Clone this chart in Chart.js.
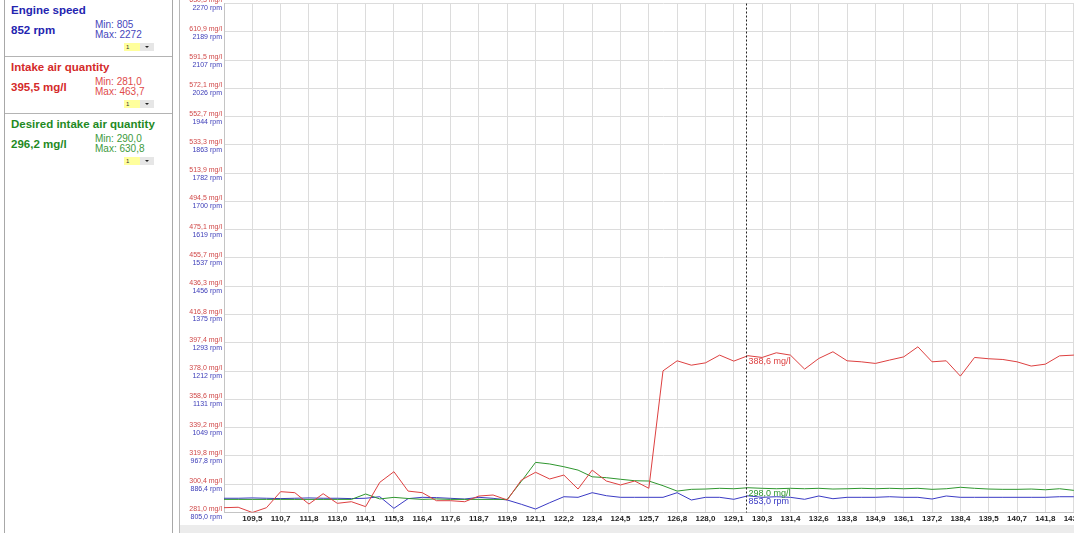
<!DOCTYPE html>
<html>
<head>
<meta charset="utf-8">
<script src="https://cdn.jsdelivr.net/npm/chart.js@4.4.1/dist/chart.umd.min.js"></script>
<style>
  html, body { margin: 0; padding: 0; width: 1074px; height: 533px; overflow: hidden; background: #fff; font-family: "Liberation Sans", Arial, sans-serif; }
  #panel { position: absolute; left: 4px; top: -1px; width: 167px; height: 540px; border: 1px solid #a8a8a8; }
  .sig { position: relative; height: 56px; border-bottom: 1px solid #b4b4b4; }
  .sig.last { border-bottom: none; }
  .name { position: absolute; left: 6px; top: 4px; font-weight: bold; font-size: 11.5px; white-space: nowrap; }
  .val { position: absolute; left: 6px; top: 24px; font-weight: bold; font-size: 11.5px; }
  .mm { position: absolute; left: 90px; top: 20px; font-size: 10px; line-height: 10px; }
  .dd { position: absolute; left: 119px; top: 43px; width: 30px; height: 8px; }
  .dd .y { position: absolute; left: 0; top: 0; width: 16px; height: 8px; background: #ffff9c; font-size: 6px; line-height: 8px; color: #333; text-indent: 2px; }
  .dd .g { position: absolute; left: 16px; top: 0; width: 14px; height: 8px; background: #e6e6e6; }
  .dd .g:after { content: ""; position: absolute; left: 5px; top: 3px; border-left: 2px solid transparent; border-right: 2px solid transparent; border-top: 2px solid #222; }
  .blue { color: #2424b0; } .blue .mm { color: #4646bc; }
  .red { color: #d42a2a; } .red .mm { color: #e04a4a; }
  .green { color: #1f8a1f; } .green .mm { color: #3c9a3c; }
  #frame { position: absolute; left: 179px; top: 0; width: 1px; height: 533px; background: #b8b8b8; }
  #wrap { position: absolute; left: 180px; top: 0; width: 922px; height: 526px; }
  #scroll { position: absolute; left: 180px; top: 525px; width: 894px; height: 8px; background: #ececec; }
</style>
</head>
<body>
<div id="panel">
  <div class="sig blue">
    <div class="name">Engine speed</div>
    <div class="val">852 rpm</div>
    <div class="mm">Min: 805<br>Max: 2272</div>
    <div class="dd"><div class="y">1</div><div class="g"></div></div>
  </div>
  <div class="sig red">
    <div class="name">Intake air quantity</div>
    <div class="val">395,5 mg/l</div>
    <div class="mm">Min: 281,0<br>Max: 463,7</div>
    <div class="dd"><div class="y">1</div><div class="g"></div></div>
  </div>
  <div class="sig green last">
    <div class="name">Desired intake air quantity</div>
    <div class="val">296,2 mg/l</div>
    <div class="mm">Min: 290,0<br>Max: 630,8</div>
    <div class="dd"><div class="y">1</div><div class="g"></div></div>
  </div>
</div>
<div id="frame"></div>
<div id="wrap"><canvas id="chart"></canvas></div>
<div id="scroll"></div>

<script>
const FONT = '"Liberation Sans", Arial, sans-serif';

// time labels shown under every second sample (s)
const timeTicks = ["109,5", "110,7", "111,8", "113,0", "114,1", "115,3", "116,4", "117,6", "118,7", "119,9",
  "121,1", "122,2", "123,4", "124,5", "125,7", "126,8", "128,0", "129,1", "130,3", "131,4",
  "132,6", "133,8", "134,9", "136,1", "137,2", "138,4", "139,5", "140,7", "141,8", "143,0"];

const mgTicks = [281.0, 300.4, 319.8, 339.2, 358.6, 378.0, 397.4, 416.8, 436.3, 455.7,
  475.1, 494.5, 513.9, 533.3, 552.7, 572.1, 591.5, 610.9, 630.3];
const rpmTicks = [805.0, 886.4, 967.8, 1049, 1131, 1212, 1293, 1375, 1456, 1537,
  1619, 1700, 1782, 1863, 1944, 2026, 2107, 2189, 2270];

// intake air quantity, mg/l
const intakeAir = [284.3, 284.6, 281.0, 284.3, 295.3, 294.6, 286.8, 293.9, 287.3, 288.4,
  285.0, 301.7, 309.0, 295.7, 294.6, 289.1, 289.1, 288.4, 292.3, 293.0,
  289.6, 303.3, 308.6, 304.0, 306.7, 297.1, 310.1, 302.6, 299.9, 302.6,
  297.6, 378.2, 385.1, 382.1, 383.7, 389.0, 384.9, 388.6, 387.4, 390.6,
  389.0, 379.4, 386.7, 391.3, 385.1, 384.4, 383.3, 385.6, 387.8, 394.7,
  384.4, 385.1, 374.6, 387.4, 386.5, 386.0, 384.4, 381.5, 382.8, 388.5,
  389.0, 388.0, 386.0];

// desired intake air quantity, mg/l
const desiredAir = [290.0, 290.0, 290.0, 290.0, 290.0, 290.0, 290.0, 290.0, 290.0, 290.0,
  293.7, 290.3, 291.4, 290.6, 290.0, 290.3, 290.0, 290.0, 290.0, 290.0,
  290.0, 302.4, 315.4, 314.3, 312.4, 310.1, 305.5, 304.9, 303.8, 302.8,
  302.6, 299.4, 295.7, 296.9, 297.1, 297.6, 297.3, 298.0, 297.6, 297.3,
  297.6, 297.3, 297.6, 297.1, 297.3, 297.6, 297.3, 297.6, 297.3, 297.6,
  296.9, 297.3, 298.3, 297.6, 297.1, 296.9, 296.9, 297.1, 296.6, 297.3,
  296.2, 296.2, 296.2];

// engine speed, rpm
const engineSpeed = [846, 846, 847, 846, 845, 846, 847, 846, 846, 845,
  846, 850.4, 817, 844.9, 848.7, 847.8, 845.8, 843.8, 848.7, 845.8,
  841, 828.6, 815, 833.2, 850.4, 848.7, 862, 853.3, 848.7, 848.7,
  848.7, 848.7, 862, 841, 848.7, 848.7, 843, 853.0, 848.7, 850.4,
  848.7, 843, 852.5, 844.7, 848.7, 848.7, 848.7, 850.4, 848.7, 848.7,
  843.8, 852.5, 848.7, 848.7, 848.7, 848.7, 848.7, 848.7, 848.7, 850.4,
  850.4, 852, 852];

const sampleIdx = intakeAir.map((_, i) => i);
const cursorIndex = 37;

function comma(v, d) {
  return v.toFixed(d).replace(".", ",");
}

// rpm axis shares the same strip as the mg/l axis, labels sit just below
const stackAxes = {
  id: "stackAxes",
  afterLayout(chart) {
    const a = chart.scales.y;
    const b = chart.scales.y1;
    b.left = a.left;
    b.right = a.right;
    b.width = a.width;
  },
};

const cursorPlugin = {
  id: "cursor",
  afterDatasetsDraw(chart) {
    const { ctx, chartArea, scales } = chart;
    const x = Math.round(scales.x.getPixelForValue(cursorIndex)) - 1.5;
    ctx.save();
    ctx.strokeStyle = "#222";
    ctx.lineWidth = 1;
    ctx.setLineDash([2, 2]);
    ctx.beginPath();
    ctx.moveTo(x, chartArea.top);
    ctx.lineTo(x, chartArea.bottom);
    ctx.stroke();
    ctx.setLineDash([]);
    ctx.font = "9px " + FONT;
    ctx.textBaseline = "middle";
    ctx.textAlign = "left";
    chart.data.datasets.forEach((ds) => {
      const v = ds.data[cursorIndex];
      const y = scales[ds.yAxisID].getPixelForValue(v);
      ctx.fillStyle = ds.borderColor;
      ctx.fillText(comma(v, 1) + " " + ds.unit, x + 2, y + 6);
    });
    ctx.restore();
  },
};

new Chart(document.getElementById("chart"), {
  type: "line",
  data: {
    labels: sampleIdx,
    datasets: [
      { label: "Intake air quantity", unit: "mg/l", data: intakeAir, yAxisID: "y", borderColor: "#dd4040" },
      { label: "Desired intake air quantity", unit: "mg/l", data: desiredAir, yAxisID: "y", borderColor: "#2e962e" },
      { label: "Engine speed", unit: "rpm", data: engineSpeed, yAxisID: "y1", borderColor: "#3a3ac4" },
    ],
  },
  options: {
    responsive: true,
    maintainAspectRatio: false,
    animation: false,
    layout: { padding: { left: 0, top: 3.5, right: 0, bottom: 0 } },
    plugins: { legend: { display: false }, tooltip: { enabled: false } },
    elements: { point: { radius: 0 }, line: { borderWidth: 1, tension: 0 } },
    scales: {
      x: {
        type: "linear",
        min: 0,
        max: 62,
        grid: { color: "#dcdcdc", drawTicks: false },
        border: { color: "#c4c4c4" },
        ticks: {
          stepSize: 2,
          autoSkip: false,
          maxRotation: 0,
          padding: 1,
          color: "#222",
          font: { size: 8, weight: "bold", family: FONT },
          callback: (v) => timeTicks[(v - 2) / 2] ?? "",
        },
        afterFit(scale) {
          scale.height = 13.5;
          scale.paddingLeft = 0;
          scale.paddingRight = 0;
        },
      },
      y: {
        position: "left",
        min: 281.0,
        max: 630.3,
        afterBuildTicks(scale) {
          scale.ticks = mgTicks.map((v) => ({ value: v }));
        },
        grid: { color: "#dcdcdc", drawTicks: false },
        border: { color: "#c4c4c4" },
        ticks: {
          autoSkip: false,
          labelOffset: -3,
          padding: 2,
          color: "#d04848",
          font: { size: 7, family: FONT },
          callback: (v) => comma(v, 1) + " mg/l",
        },
        afterFit(scale) {
          scale.width = 44;
          scale.paddingTop = 0;
          scale.paddingBottom = 0;
        },
      },
      y1: {
        position: "left",
        min: 805,
        max: 2270,
        afterBuildTicks(scale) {
          scale.ticks = rpmTicks.map((v) => ({ value: v }));
        },
        grid: { display: false, drawTicks: false },
        border: { display: false },
        ticks: {
          autoSkip: false,
          labelOffset: 5,
          padding: 2,
          color: "#3c3cb8",
          font: { size: 7, family: FONT },
          callback: (v) => comma(v, v < 1000 ? 1 : 0) + " rpm",
        },
        afterFit(scale) {
          scale.width = 0;
          scale.paddingTop = 0;
          scale.paddingBottom = 0;
        },
      },
    },
  },
  plugins: [stackAxes, cursorPlugin],
});
</script>
</body>
</html>
